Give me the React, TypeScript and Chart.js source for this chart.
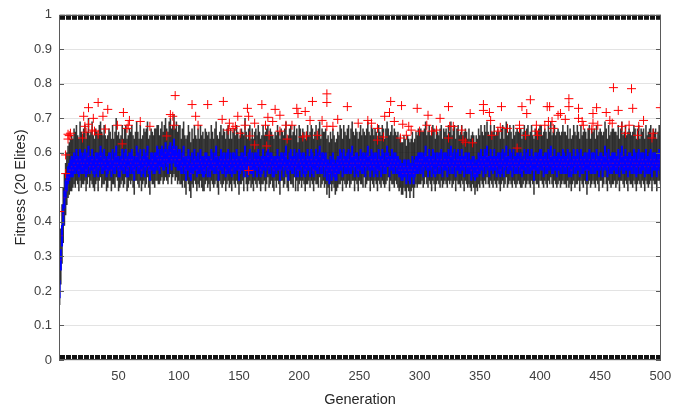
import React, { useEffect, useRef } from "react";
import { Chart, registerables } from "chart.js";

Chart.register(...registerables);

// Box-plot statistics per generation, in hundredths of fitness
const medianH = [
  20,29,36,42,47,49,52,53,55,55,56,55,57,56,58,57,55,58,57,56,
  57,58,55,57,59,56,57,58,56,55,57,58,56,57,59,57,56,58,57,55,
  56,58,57,55,58,56,57,59,57,56,55,57,58,56,57,58,55,56,58,57,
  58,56,55,57,59,57,56,58,55,57,58,56,57,59,56,55,57,58,56,57,
  57,59,58,56,58,59,57,58,60,58,57,59,60,58,59,61,58,59,57,58,
  58,56,57,59,56,55,57,58,56,54,57,56,58,57,55,57,56,58,57,56,
  55,57,58,56,57,55,58,57,56,57,59,56,55,57,58,56,57,58,55,57,
  58,56,57,55,58,57,56,58,57,55,56,58,57,56,59,57,55,57,58,56,
  57,55,58,57,56,58,57,55,56,58,57,56,57,59,56,57,58,56,55,57,
  56,58,57,55,57,58,56,57,59,56,55,57,58,56,57,58,56,57,55,58,
  57,56,58,57,55,56,58,57,56,58,57,55,57,58,56,57,59,56,57,58,
  56,57,55,56,54,56,55,57,56,54,55,57,56,58,57,56,58,57,56,57,
  58,56,57,59,57,56,58,57,55,57,58,56,57,58,56,57,59,57,56,58,
  57,56,58,57,55,58,57,56,58,57,56,57,59,58,56,57,58,56,57,58,
  56,57,55,56,55,54,56,55,54,56,55,54,55,56,54,55,57,56,57,58,
  57,58,56,57,59,57,56,58,57,56,58,57,55,57,58,56,57,58,56,57,
  58,57,56,58,57,59,56,57,58,56,57,58,57,56,58,57,56,58,57,56,
  57,56,55,57,56,54,56,55,57,56,58,57,56,58,57,59,57,56,58,57,
  56,58,57,56,58,57,55,57,58,56,57,59,56,57,58,57,56,58,57,56,
  57,58,56,57,55,57,58,56,57,58,57,56,58,57,55,57,58,56,57,58,
  58,57,56,58,57,56,58,57,59,57,56,58,57,56,57,58,56,57,58,57,
  56,57,58,56,57,55,57,58,56,57,58,57,56,58,57,56,58,57,55,57,
  58,56,57,58,57,56,58,57,56,57,58,56,57,59,57,56,58,57,56,57,
  57,58,56,57,58,56,57,59,57,56,58,57,56,57,58,56,57,58,57,56,
  57,58,56,57,58,57,56,58,57,56,57,58,56,57,58,57,56,57,58,57,
];

const q1H = [
  18,26,33,39,44,47,49,51,52,53,53,53,54,54,55,54,53,55,54,54,
  54,55,53,54,56,54,55,55,54,53,54,56,53,55,56,54,54,55,55,53,
  54,55,55,53,55,54,54,56,55,53,53,55,55,54,54,56,53,53,56,54,
  55,54,52,55,56,54,54,55,53,54,56,53,55,56,54,52,55,55,54,54,
  55,56,55,54,56,56,55,55,57,56,54,57,57,55,57,58,56,56,55,55,
  55,54,54,56,54,52,55,55,53,52,54,54,55,55,53,54,54,55,54,53,
  53,54,56,53,55,53,55,55,54,54,56,54,52,55,55,54,54,56,53,54,
  55,54,54,53,56,54,54,55,55,52,54,55,55,53,56,55,53,54,56,54,
  54,53,55,55,53,56,54,53,54,55,55,53,55,56,54,54,56,53,53,55,
  54,55,55,52,55,56,53,55,56,54,52,55,55,54,54,56,53,55,53,55,
  55,53,56,54,53,54,55,55,53,56,54,53,55,55,54,54,56,54,54,56,
  53,55,52,54,51,54,52,55,53,52,52,54,54,55,55,53,56,54,54,54,
  55,54,54,56,55,53,56,54,53,55,55,54,54,56,53,55,56,55,53,55,
  55,53,56,54,53,55,55,53,56,54,54,54,56,56,53,55,55,54,54,56,
  54,54,53,53,52,52,53,53,51,54,52,51,53,53,51,53,54,54,54,55,
  54,56,53,55,56,55,53,55,55,53,56,54,53,54,56,54,54,56,53,55,
  55,55,53,56,54,56,54,54,56,53,55,55,54,54,55,55,53,56,54,54,
  54,54,52,55,53,52,53,53,54,54,55,55,53,56,54,56,55,53,55,55,
  54,55,55,53,56,54,53,54,56,53,55,56,54,54,55,55,53,56,54,54,
  54,56,54,54,53,55,55,54,54,56,54,54,55,55,52,55,55,54,54,56,
  55,55,53,56,54,54,55,55,56,54,54,55,55,53,55,55,54,54,56,54,
  54,54,56,53,55,53,54,56,54,54,55,55,53,56,54,54,55,55,52,55,
  55,54,54,56,54,54,55,55,53,55,56,53,55,56,55,53,56,54,54,54,
  55,55,54,54,56,53,55,56,54,54,55,55,53,55,55,54,54,56,54,53,
  54,56,54,54,55,55,53,56,54,54,54,56,53,55,55,55,53,55,56,54,
];

const q3H = [
  23,32,39,45,49,52,54,56,57,58,59,58,60,59,61,59,58,61,60,59,
  60,61,58,60,62,59,59,61,59,58,60,60,59,60,62,60,58,61,59,58,
  59,60,60,58,61,58,60,62,59,59,58,59,61,58,60,61,58,59,60,60,
  61,59,58,59,62,60,58,61,58,59,61,59,60,62,58,58,60,60,59,60,
  60,62,61,59,61,62,60,61,63,61,60,62,63,61,62,64,61,62,60,61,
  61,58,60,62,59,58,59,61,59,57,60,58,61,59,58,60,58,61,59,59,
  58,60,60,59,59,58,61,60,58,60,62,59,58,59,61,59,60,60,58,60,
  61,58,60,58,60,60,59,61,59,58,59,60,60,59,62,59,58,60,61,58,
  60,58,60,60,59,61,59,58,59,61,59,59,60,61,59,60,60,59,58,59,
  59,61,59,58,60,60,59,60,62,58,58,60,61,59,59,61,59,60,57,61,
  60,59,60,60,58,59,61,59,59,61,60,58,59,61,59,60,62,58,60,60,
  59,60,58,58,57,59,58,60,58,57,58,59,59,61,60,58,61,59,59,60,
  61,58,60,62,59,59,60,60,58,59,61,59,60,60,59,60,62,59,59,61,
  60,59,60,60,58,61,59,59,61,60,58,60,62,60,59,59,61,59,60,60,
  59,59,58,58,57,57,58,58,56,58,58,57,57,59,57,58,59,59,60,60,
  60,60,59,60,62,59,59,61,59,59,61,60,58,60,60,59,60,61,58,60,
  60,60,59,61,59,62,59,60,61,58,60,61,59,59,61,59,59,60,60,58,
  60,58,58,59,59,57,58,58,60,59,61,59,59,61,60,62,59,59,61,59,
  59,61,59,59,60,60,58,60,61,58,60,62,59,59,61,60,58,61,59,59,
  60,60,59,60,58,59,61,58,60,61,59,59,61,59,58,60,60,59,60,61,
  61,59,59,60,60,58,61,60,62,59,59,61,59,59,60,60,59,59,61,60,
  59,59,61,58,60,58,59,61,59,59,61,60,58,61,59,59,60,60,58,60,
  61,58,60,60,60,58,61,59,59,60,60,59,59,62,60,58,61,59,59,60,
  60,60,59,59,61,58,60,62,59,59,61,59,59,60,60,59,59,61,60,58,
  60,61,58,60,60,60,58,61,59,59,60,61,58,60,60,60,58,60,61,59,
];

const lowH = [
  16,22,28,34,39,42,45,47,48,49,49,50,51,50,52,51,49,52,50,51,
  51,52,49,51,53,50,52,51,50,49,51,52,49,52,53,50,51,51,52,49,
  50,52,52,49,51,51,50,53,52,49,50,51,52,50,51,53,49,50,52,51,
  52,50,48,52,52,51,50,52,49,51,52,50,51,53,50,48,52,51,51,50,
  52,52,51,51,52,53,51,52,53,52,51,53,54,51,53,54,52,53,51,52,
  51,51,50,52,50,48,52,51,49,47,51,50,52,51,49,51,50,52,50,49,
  49,51,52,50,51,49,52,51,50,51,52,50,48,52,51,50,51,52,49,51,
  52,50,51,49,52,51,50,52,51,48,51,51,52,49,53,51,49,51,52,50,
  51,49,52,51,50,52,51,49,51,51,52,49,51,53,50,51,52,50,49,52,
  50,52,51,48,52,52,50,51,53,50,49,52,51,51,50,53,49,52,49,51,
  52,50,52,51,49,51,51,52,50,52,51,49,52,51,51,50,53,50,51,52,
  50,51,48,50,47,51,49,51,50,48,49,50,51,51,52,49,52,51,50,51,
  52,50,51,52,52,49,52,51,49,52,51,51,50,53,50,51,52,52,49,52,
  51,50,52,51,49,52,51,50,52,51,50,51,52,53,49,52,51,51,50,52,
  51,50,49,50,48,48,50,49,47,50,49,47,49,50,47,50,51,50,51,51,
  51,52,50,51,53,51,50,52,51,49,52,51,49,51,52,51,50,52,50,51,
  52,51,50,52,51,52,50,51,52,49,52,51,51,50,52,51,49,52,51,50,
  51,50,49,51,50,48,50,49,51,50,52,51,50,52,51,53,51,50,52,51,
  50,52,51,50,52,51,49,51,52,50,51,53,50,51,52,51,50,52,51,50,
  51,52,51,50,50,51,52,50,51,52,51,50,52,51,48,52,51,51,50,52,
  52,51,50,52,51,50,52,51,53,51,50,52,51,50,51,52,50,51,52,51,
  51,50,52,50,51,49,51,52,50,51,51,52,49,52,51,50,52,51,48,51,
  52,50,51,52,51,50,52,51,49,52,52,50,51,53,51,49,52,51,50,51,
  51,52,50,51,52,49,52,52,51,50,52,51,49,52,51,51,50,52,51,49,
  51,52,51,50,52,51,49,52,51,50,51,52,49,52,51,51,49,52,52,51,
];

const highH = [
  28,38,45,50,54,57,60,62,63,64,65,64,67,66,68,65,64,69,66,65,
  67,68,64,66,70,65,66,69,65,64,67,66,65,68,69,66,65,68,65,64,
  65,67,66,64,68,64,66,70,65,66,64,65,68,64,67,68,64,65,67,66,
  68,65,64,66,69,66,64,68,64,65,67,66,67,69,64,65,67,66,65,67,
  67,68,68,65,67,69,66,68,70,67,66,69,70,67,68,71,67,69,66,68,
  68,64,67,69,65,64,65,68,66,63,67,64,68,65,64,67,64,68,65,66,
  64,67,66,65,66,64,68,66,64,67,69,65,64,66,68,65,67,66,64,67,
  68,64,67,64,66,67,65,68,66,64,65,67,66,65,70,66,64,67,68,64,
  67,64,66,67,65,68,66,64,65,68,65,66,67,68,65,67,66,65,64,66,
  65,68,66,64,67,66,65,67,69,64,65,67,68,65,66,68,65,67,63,68,
  67,65,67,66,64,66,68,65,66,68,67,64,66,68,65,67,69,64,67,66,
  66,67,64,65,63,66,64,67,65,63,64,66,65,68,67,64,68,66,65,67,
  68,64,67,69,66,65,67,66,64,66,68,65,67,66,65,67,69,66,65,68,
  67,65,67,66,64,68,66,65,68,67,64,67,69,67,65,66,68,65,67,66,
  65,66,64,65,63,63,65,64,62,65,64,63,64,66,63,64,66,65,67,66,
  67,66,66,67,69,65,66,68,65,66,68,67,64,67,66,65,67,68,64,67,
  66,67,65,68,66,69,65,67,68,64,67,68,65,66,68,65,66,67,66,64,
  67,64,65,66,65,63,65,64,67,65,68,66,65,68,66,69,66,65,68,66,
  66,68,65,66,67,66,64,67,68,64,67,69,65,66,68,66,64,68,65,66,
  67,66,66,67,64,66,68,64,67,68,65,66,68,65,64,67,66,65,67,68,
  68,65,66,67,66,64,68,66,69,65,66,68,65,66,67,66,65,66,68,66,
  66,65,68,64,67,64,65,68,66,65,68,66,64,68,65,66,67,66,64,67,
  68,64,67,66,67,64,68,65,66,67,66,65,66,69,67,64,68,65,66,67,
  67,66,66,65,68,64,67,69,65,66,68,65,66,67,66,65,66,68,67,64,
  67,68,64,67,66,67,64,68,65,66,67,68,64,67,66,67,64,66,68,65,
];

// Outliers (red +): generation and fitness
const outlierGen = [
  1,6,6,8,8,9,10,20,21,22,23,25,25,28,29,30,33,33,37,39,41,49,53,54,57,58,59,68,76,90,
  93,95,96,97,111,114,116,124,136,137,141,142,145,147,149,151,155,157,158,158,159,163,163,169,172,173,174,175,178,180,
  184,184,189,190,194,198,199,203,205,206,209,211,215,219,223,223,223,228,232,240,249,257,260,265,265,270,271,275,276,279,
  284,285,286,289,291,293,298,300,306,307,310,314,317,324,324,325,328,335,336,338,342,344,353,353,358,359,360,365,367,368,
  373,381,383,383,385,388,389,392,397,397,398,404,406,407,408,410,411,415,417,421,424,424,432,432,435,436,443,444,444,447,
  448,455,458,460,461,465,468,471,474,476,477,481,482,486,493,494,500,
];
const outlierVal = [
  0.43,0.54,0.594,0.654,0.64,0.65,0.657,0.643,0.706,0.677,0.66,0.731,0.683,0.666,0.70,0.663,0.746,0.654,0.706,0.669,0.726,0.68,0.626,0.717,0.671,0.68,0.694,0.691,0.677,0.649,
  0.711,0.706,0.68,0.766,0.74,0.706,0.68,0.74,0.697,0.749,0.666,0.686,0.671,0.677,0.706,0.657,0.68,0.729,0.706,0.549,0.649,0.686,0.623,0.74,0.68,0.62,0.703,0.651,0.691,0.726,
  0.709,0.663,0.68,0.64,0.68,0.729,0.714,0.646,0.72,0.649,0.694,0.749,0.651,0.694,0.771,0.746,0.677,0.677,0.697,0.734,0.686,0.694,0.686,0.671,0.637,0.646,0.706,0.717,0.749,0.691,
  0.643,0.737,0.683,0.651,0.677,0.666,0.729,0.663,0.68,0.709,0.663,0.666,0.70,0.734,0.643,0.677,0.677,0.666,0.637,0.631,0.714,0.629,0.74,0.723,0.717,0.694,0.651,0.663,0.674,0.734,
  0.671,0.614,0.68,0.671,0.734,0.651,0.714,0.754,0.68,0.663,0.651,0.68,0.734,0.691,0.734,0.691,0.671,0.709,0.714,0.697,0.757,0.734,0.729,0.70,0.691,0.68,0.669,0.714,0.686,0.731,
  0.68,0.717,0.694,0.686,0.789,0.723,0.677,0.657,0.68,0.786,0.729,0.651,0.677,0.694,0.643,0.657,0.731,
];

const xTickValues = [50, 100, 150, 200, 250, 300, 350, 400, 450, 500];
const yTickValues = [0, 0.1, 0.2, 0.3, 0.4, 0.5, 0.6, 0.7, 0.8, 0.9, 1];
const xLabel = "Generation";
const yLabel = "Fitness (20 Elites)";

const FONT = "'Liberation Sans', Arial, Helvetica, sans-serif";

export default function App() {
  const ref = useRef<HTMLCanvasElement | null>(null);

  useEffect(() => {
    const canvas = ref.current;
    if (!canvas) return;
    const n = Math.min(medianH.length, q1H.length, q3H.length, lowH.length, highH.length);
    const gens: number[] = [];
    for (let i = 0; i < n; i++) gens.push(i + 1);

    const whiskers = gens.map((g, i) => ({ x: g, y: [lowH[i] / 100, highH[i] / 100] }));
    const boxes = gens.map((g, i) => ({ x: g, y: [q1H[i] / 100, q3H[i] / 100] }));
    const medians = gens.map((g, i) => ({ x: g, y: medianH[i] / 100 }));
    const outliers = outlierGen.map((g, i) => ({ x: g, y: outlierVal[i] }));

    const framePlugin = {
      id: "matlabFrame",
      afterDatasetsDraw(chart: any) {
        const { ctx, chartArea, scales } = chart;
        const { left, right, top, bottom } = chartArea;
        const xs = scales.x;
        const ys = scales.y;
        ctx.save();
        // category tick marks along top and bottom (one per generation)
        ctx.strokeStyle = "#111111";
        ctx.lineWidth = 1;
        ctx.beginPath();
        for (const g of gens) {
          const px = Math.round(xs.getPixelForValue(g)) + 0.5;
          ctx.moveTo(px, bottom);
          ctx.lineTo(px, bottom - 5);
          ctx.moveTo(px, top);
          ctx.lineTo(px, top + 5);
        }
        ctx.stroke();
        // y tick marks inside, left and right
        ctx.strokeStyle = "#5a5a5a";
        ctx.beginPath();
        for (const v of yTickValues) {
          const py = Math.round(ys.getPixelForValue(v)) + 0.5;
          ctx.moveTo(left, py);
          ctx.lineTo(left + 5, py);
          ctx.moveTo(right, py);
          ctx.lineTo(right - 5, py);
        }
        ctx.stroke();
        // box frame
        ctx.strokeStyle = "#5a5a5a";
        ctx.strokeRect(Math.round(left) + 0.5, Math.round(top) + 0.5, Math.round(right - left) - 1, Math.round(bottom - top) - 1);
        ctx.restore();
      },
    };

    const chart = new Chart(canvas, {
      type: "bar",
      data: {
        datasets: [
          {
            type: "scatter",
            label: "Outliers",
            data: outliers,
            pointStyle: "cross",
            radius: 4.5,
            borderColor: "#ff0000",
            backgroundColor: "#ff0000",
            borderWidth: 1,
          } as any,
          {
            type: "scatter",
            label: "Median",
            data: medians,
            pointStyle: "line",
            radius: 0.7,
            borderColor: "rgba(200,0,80,0.55)",
            borderWidth: 1,
          } as any,
          {
            type: "bar",
            label: "Box",
            data: boxes,
            backgroundColor: "#0000ff",
            borderWidth: 0,
            barThickness: 1.4,
            grouped: false,
          } as any,
          {
            type: "bar",
            label: "Whisker",
            data: whiskers,
            backgroundColor: "rgba(20,20,20,0.85)",
            borderWidth: 0,
            barThickness: 0.9,
            grouped: false,
          } as any,
        ],
      },
      options: {
        responsive: false,
        animation: false,
        devicePixelRatio: 1,
        layout: { padding: { left: 0, right: 23, top: 10, bottom: 0 } },
        plugins: { legend: { display: false }, tooltip: { enabled: false } },
        scales: {
          x: {
            type: "linear",
            min: 0.5,
            max: 500.5,
            offset: false,
            grid: { display: false, drawTicks: false },
            border: { display: false },
            afterBuildTicks: (s: any) => {
              s.ticks = xTickValues.map((v) => ({ value: v }));
            },
            afterFit: (s: any) => {
              s.height = 47;
            },
            ticks: {
              autoSkip: false,
              maxRotation: 0,
              padding: 9,
              color: "#404040",
              font: { family: FONT, size: 13 },
              callback: (v: any) => String(v),
            },
            title: {
              display: true,
              text: xLabel,
              color: "#262626",
              font: { family: FONT, size: 14.5 },
              padding: { top: 0, bottom: -2 },
            },
          },
          y: {
            type: "linear",
            min: 0,
            max: 1,
            grid: { color: "#e3e3e3", drawTicks: false, lineWidth: 1 },
            border: { display: false },
            afterBuildTicks: (s: any) => {
              s.ticks = yTickValues.map((v) => ({ value: v }));
            },
            afterFit: (s: any) => {
              s.width = 59;
            },
            ticks: {
              padding: 7,
              color: "#404040",
              font: { family: FONT, size: 13 },
              callback: (v: any) => String(Number(Number(v).toFixed(1))),
            },
            title: {
              display: true,
              text: yLabel,
              color: "#262626",
              font: { family: FONT, size: 14.5 },
              padding: { top: 12, bottom: 0 },
            },
          },
        },
      } as any,
      plugins: [framePlugin],
    });

    return () => chart.destroy();
  }, []);

  return (
    <div style={{ position: "fixed", left: 0, top: 0, width: 684, height: 407, background: "#fff" }}>
      <canvas ref={ref} width={684} height={407} style={{ width: 684, height: 407, display: "block" }} />
    </div>
  );
}
